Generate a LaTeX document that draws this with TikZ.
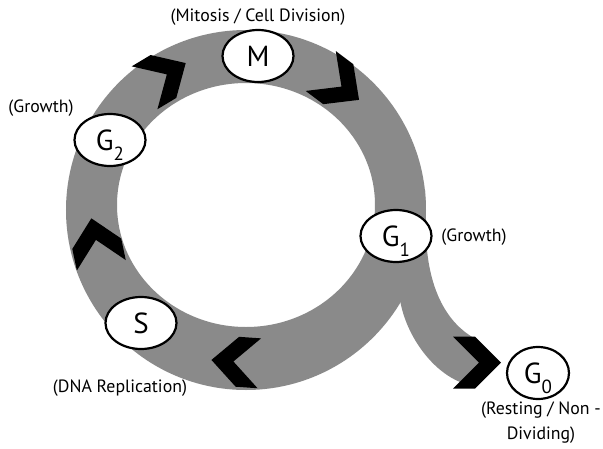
\documentclass[tikz,border=0pt]{standalone}
\usepackage{fontspec}
\setmainfont{PT Sans}
\usetikzlibrary{shapes.geometric}
\newcommand\phidx[1]{\raisebox{-10pt}[0pt][0pt]{\fontsize{19}{19}\selectfont#1}}
\begin{document}
\begin{tikzpicture}[x=1pt,y=1pt,
  phase/.style={ellipse,draw,line width=2.2pt,fill=white,minimum width=71,minimum height=52,inner sep=0pt,font=\fontsize{29}{29}\selectfont},
  note/.style={font=\fontsize{17.8}{25}\selectfont,align=center,inner sep=0pt}]
\useasboundingbox (-246,-238) rectangle (357,210);
\fill[black!46,even odd rule] (0,0) circle[radius=180] (0,5) ellipse[x radius=129,y radius=122];
\fill[black!46] (179,20)--(181,-40) .. controls (185,-80) and (200,-112) .. (228,-128)--(235,-152)--(214,-172) .. controls (185,-160) and (160,-125) .. (154,-90)--(130,-40)--cycle;
% arrows round the ring
\foreach \a/\r in {53/156,121/157,192/153,266/152}
  \fill[shift={(\a:\r)},rotate=\a-90] (-24,-25)--(-2,-25)--(24,0)--(-2,25)--(-24,25)--(2,0)--cycle;
\fill[shift={(231,-152.5)}] (-24,-26)--(-2,-26)--(24,0)--(-2,26)--(-24,26)--(2,0)--cycle;
\node[phase] (m) at (12,154) {M};
\node[phase] (gtwo) at (-136,70) {G\phidx{2}};
\node[phase] (s) at (-105,-113) {S};
\node[phase] (gone) at (150,-26) {G\phidx{1}};
\node[phase,minimum width=62] (gzero) at (292,-163) {G\phidx{0}};
\node[note] (mtxt) at (12,193) {(Mitosis / Cell Division)};
\node[note] (gtwotxt) at (-205,102) {(Growth)};
\node[note] (gonetxt) at (228,-27) {(Growth)};
\node[note] (stxt) at (-126,-178) {(DNA Replication)};
\node[note] (gzerotxt) at (295,-212.5) {(Resting / Non -\\Dividing)};
\end{tikzpicture}
\end{document}
